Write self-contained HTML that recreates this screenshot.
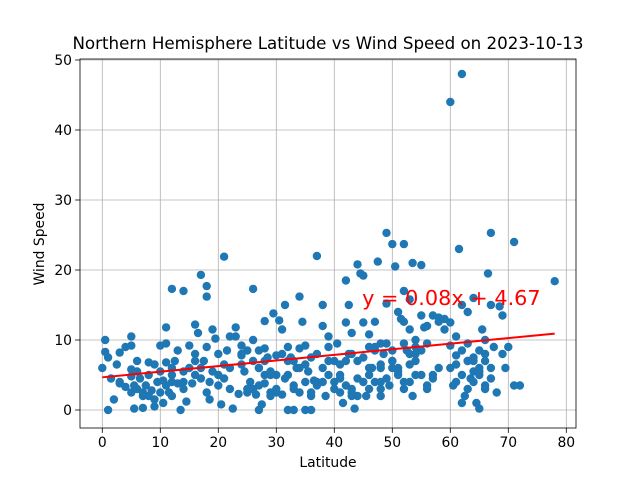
<!DOCTYPE html>
<html><head><meta charset="utf-8">
<style>
html,body{margin:0;padding:0;background:#fff;}
svg{display:block;font-family:"DejaVu Sans","Liberation Sans",sans-serif;}
</style></head>
<body>
<svg id="chart" width="640" height="480" viewBox="0 0 640 480"></svg>
<script>
const latitudes = [0,0.5,0.5,1,1,1.5,2,2.5,3,3,4,4,5,5,5,5,5,5.5,5.5,6,6,6,6.5,7,7,7.5,8,8,8.5,9,9,9,9.5,10,10,10,10.5,10.5,11,11,11,11,11.5,12,12,12,12.5,13,13,13.5,14,14,14,14.5,15,15,15.5,16,16,16,16.5,17,17,17.5,18,18,18,18,18.5,18.5,19,19,19.5,20,20,20.5,21,21,21,21.5,22,22,22.5,23,23,23.5,24,24,24.5,25,25,25.5,26,26,26,26.5,27,27,27,27.5,28,28,28,28.5,29,29,29.5,30,30,30.5,31,31,31.5,31.5,32,32,32.5,33,33,33.5,34,34,34,34.5,35,35,35,35.5,36,36,36.5,37,37,37,38,38,38,38.5,39,39,39,40,40,40.5,41,41,41.5,42,42,42,42.5,42.5,43,43,43.5,44,44,44.5,45,45,45,45.5,46,46,46.5,47,47,47.5,48,48,48.5,49,49,49,49.5,50,50,50.5,51,51,51.5,52,52,52,52.5,53,53,53,53.5,53.5,54,54,55,55,55,55.5,56,56,57,57,58,58,59,59,60,60,60,60,60.5,61,61,61.5,62,62,62,62,62.5,63,63,63.5,64,64,64,64.5,65,65,65.5,66,66,66,66.5,67,67,67,67.5,68,68.5,69,69,69.5,70,71,71,72,78,
3,7,12,14,16,20,24,26,27,29,30,32,33,34,36,37,39,40,41,43,44,46,47,48,50,51,52,54,56,58,61,63,65,8,12,17,22,28,33,38,43,48,53,57,64,66,
45,46,47,48,49,50,51,52,53,54,55,56,44,46,48,50,52,54,41,42,43,61,62,63,64,65,66,67,63,65,27,28,29,30,31,32,24,25,35,36];
const windSpeeds = [6,10,8.3,7.5,0,4.5,1.5,6.5,8.2,3.8,3.3,9,9.2,10.5,5.8,4.8,2.5,3.5,0.2,3,5.5,7,4.5,2,0.3,3.5,6.8,5,2.8,1.5,0.5,6.5,4,9.2,2.5,5.5,1,4.2,11.8,9.5,6.8,3.5,2.5,17.3,5,2,7,3.8,8.5,0,17,5.5,4,1.2,9.2,6,3.8,12.2,8,5,11,19.3,4.5,7,17.7,16.2,9,2.5,1.5,4,11.5,5.5,10.2,8,3.5,0.8,21.9,6.5,4.5,8.5,10.5,6,0.2,11.8,10.5,2.3,9.2,7.8,5.5,8.5,2.5,4,17.3,10,7,2.2,8.5,6,0,0.8,12.7,8.8,3.8,7.5,2.5,5,13.8,3,7.8,12.8,11.5,2.2,15,4.5,9,0,7.5,3.5,0,6,16.2,2.5,8.8,12.6,9.2,4,0,5.5,7.5,0,4.2,22,8,3.5,15,12,6,2,10.5,9,5,4,7,9.5,2.5,6.5,1,12.5,18.5,3.5,15,8,11,3,0.2,20.8,7,19.5,12.5,19.2,4,2,10.8,9,6,12.6,8.5,21.2,9.5,2,8,25.3,15.2,9.5,3.5,23.7,8.5,20.5,14,6,13,23.7,17,12.6,8.5,15.8,11.5,4,21,2,10,7,20.7,13.5,8.5,11.8,12,3.5,13.5,4.5,13.2,12.6,13,11.5,44,12.5,9.2,6,3.5,10.5,7.8,23,48,15,5,1,2,14,9.5,4.5,16,7.5,5.5,1,6,0.2,11.5,10,8,3.5,19.5,25.3,15,4.5,9,2.5,14.8,13.5,8,6,9,24,3.5,3.5,18.4,
4,2.5,6,3,7,5,8,3,6,2,5,7,3,6,2,4,7,3,5,8,2,6,4,3,7,5,4,9,3,6,4,7,5,2,4,6,3,5,7,4,2,6,8,5,7,3,
7.5,5,9,6.5,4.5,7,5.5,9.5,6.5,8,5,9.5,4.5,3,4,6,3,5,4.5,7,2.5,6.5,8.5,7,4,5.5,7,6,3,8.5,3.5,7,5.5,2.5,8,5,6.5,3,6.5,2.5];
const slope = 0.08;
const intercept = 4.67;
const xTicks = [0,10,20,30,40,50,60,70,80];
const yTicks = [0,10,20,30,40,50];

const NS="http://www.w3.org/2000/svg";
const svg=document.getElementById('chart');
const L=80,R=576,T=59,B=428;
function xs(v){return 102.3+v*5.8;}
function ys(v){return 410-v*7;}
function mk(tag,attrs,parent){const e=document.createElementNS(NS,tag);for(const k in attrs)e.setAttribute(k,attrs[k]);(parent||svg).appendChild(e);return e;}

const frame=mk('rect',{x:L,y:T,width:R-L,height:B-T,fill:'#fff'});



xTicks.forEach(t=>{
  const g=mk('line',{x1:xs(t),x2:xs(t),y1:T,y2:B,stroke:'#b0b0b0','stroke-width':0.8});
  
  
  const tk=mk('line',{x1:xs(t),x2:xs(t),y1:B,y2:B+4.9,stroke:'#000','stroke-width':0.8});
  
  
  const tx=mk('text',{x:xs(t),y:B+19,'text-anchor':'middle','font-size':'13.9px',fill:'#000'});
  tx.textContent=t;
  
  
});
yTicks.forEach(t=>{
  const g=mk('line',{x1:L,x2:R,y1:ys(t),y2:ys(t),stroke:'#b0b0b0','stroke-width':0.8});
  
  
  const tk=mk('line',{x1:L-4.9,x2:L,y1:ys(t),y2:ys(t),stroke:'#000','stroke-width':0.8});
  
  
  const tx=mk('text',{x:L-8,y:ys(t)+5,'text-anchor':'end','font-size':'13.9px',fill:'#000'});
  tx.textContent=t;
  
  
});

latitudes.forEach((lat,i)=>{
  const c=mk('circle',{cx:xs(lat),cy:ys(windSpeeds[i]),r:4.2,fill:'#1f77b4'});
  
  
});

const minX=Math.min(...latitudes),maxX=Math.max(...latitudes);
const line=mk('line',{x1:xs(minX),y1:ys(slope*minX+intercept),x2:xs(maxX),y2:ys(slope*maxX+intercept),stroke:'#ff0000','stroke-width':2});



const eq=mk('text',{x:xs(44.8),y:ys(15),'font-size':'20.8px',fill:'#ff0000'});
eq.textContent='y = '+slope.toFixed(2)+'x + '+intercept.toFixed(2);



const border=mk('rect',{x:L,y:T,width:R-L,height:B-T,fill:'none',stroke:'#000','stroke-width':0.8});



const title=mk('text',{x:328,y:49,'text-anchor':'middle','font-size':'16.7px',fill:'#000'});
title.textContent='Northern Hemisphere Latitude vs Wind Speed on 2023-10-13';



const xl=mk('text',{x:328,y:467,'text-anchor':'middle','font-size':'13.9px',fill:'#000'});
xl.textContent='Latitude';



const yl=mk('text',{x:0,y:0,'text-anchor':'middle','font-size':'13.9px',fill:'#000',transform:'translate(44,244) rotate(-90)'});
yl.textContent='Wind Speed';


</script>
</body></html>
